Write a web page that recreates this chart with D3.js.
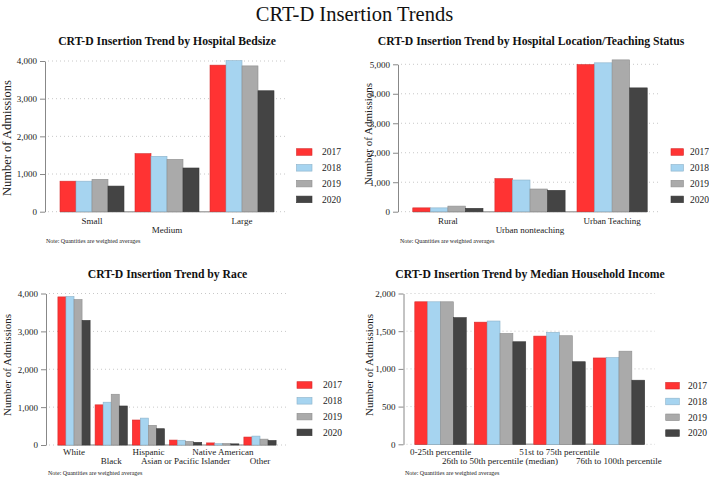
<!DOCTYPE html>
<html><head><meta charset="utf-8">
<script src="https://cdn.jsdelivr.net/npm/d3@7"></script>
<style>body{margin:0;background:#fff;} svg{display:block;}</style>
</head><body>
<script>
// ---------- DATA ----------
const years = ["2017", "2018", "2019", "2020"];
const mainTitle = "CRT-D Insertion Trends";
const noteText = "Note: Quantities are weighted averages";
const yAxisTitle = "Number of Admissions";

const bedsizeTitle = "CRT-D Insertion Trend by Hospital Bedsize";
const bedsizeCats = ["Small", "Medium", "Large"];
const bedsizeValues = [ // rows: 2017, 2018, 2019, 2020
  [810, 1540, 3890],
  [810, 1470, 4010],
  [860, 1390, 3870],
  [680, 1160, 3210]
];
const bedsizeTicks = [0, 1000, 2000, 3000, 4000];

const locationTitle = "CRT-D Insertion Trend by Hospital Location/Teaching Status";
const locationCats = ["Rural", "Urban nonteaching", "Urban Teaching"];
const locationValues = [
  [130, 1120, 4990],
  [130, 1075, 5050],
  [190, 770, 5150],
  [115, 725, 4200]
];
const locationTicks = [0, 1000, 2000, 3000, 4000, 5000];

const raceTitle = "CRT-D Insertion Trend by Race";
const raceCats = ["White", "Black", "Hispanic", "Asian or Pacific Islander", "Native American", "Other"];
const raceValues = [
  [3910, 1060, 660, 130, 55, 210],
  [3920, 1130, 710, 125, 35, 235],
  [3840, 1340, 520, 95, 40, 155],
  [3290, 1030, 430, 70, 30, 120]
];
const raceTicks = [0, 1000, 2000, 3000, 4000];

const incomeTitle = "CRT-D Insertion Trend by Median Household Income";
const incomeCats = ["0-25th percentile", "26th to 50th percentile (median)", "51st to 75th percentile", "76th to 100th percentile"];
const incomeValues = [
  [1890, 1620, 1435, 1145],
  [1890, 1635, 1485, 1150],
  [1890, 1470, 1440, 1235],
  [1680, 1360, 1095, 850]
];
const incomeTicks = [0, 500, 1000, 1500, 2000];

const colors = ["#ff3333", "#a6d4f0", "#aaaaaa", "#444444"];

// ---------- LAYOUT ----------
const FONT = "'Liberation Serif', 'Times New Roman', serif";
const W = 709, H = 479;
const svg = d3.select("body").append("svg").attr("width", W).attr("height", H);
svg.append("rect").attr("width", W).attr("height", H).attr("fill", "#fff");

svg.append("text").attr("x", 354.5).attr("y", 21).attr("text-anchor", "middle")
  .attr("font-family", FONT).attr("font-size", 20.5).attr("fill", "#111").text(mainTitle);

const panels = [
  {title: bedsizeTitle, cats: bedsizeCats, values: bedsizeValues, ticks: bedsizeTicks,
   axisX: 45, rangeEnd: 289, pi: 0.147, po: 0.2, y0: 211.7, yTop: 61, gridEnd: 287,
   titleX: 167, titleY: 45, ytX: 11, ytY: 138, ytSize: 12.5,
   labelY: 224, labelDY: 9, noteX: 46, noteY: 243,
   legX: 296.5, legW: 15.5, legY: 152, legTextX: 322},
  {title: locationTitle, cats: locationCats, values: locationValues, ticks: locationTicks,
   axisX: 398, rangeEnd: 662, pi: 0.145, po: 0.18, y0: 211.7, yTop: 64.3, gridEnd: 660,
   titleX: 531, titleY: 45, ytX: 372, ytY: 134, ytSize: 11,
   labelY: 224, labelDY: 9, noteX: 400, noteY: 243,
   legX: 671, legW: 12.5, legY: 152, legTextX: 690},
  {title: raceTitle, cats: raceCats, values: raceValues, ticks: raceTicks,
   axisX: 46, rangeEnd: 288, pi: 0.134, po: 0.32, y0: 445, yTop: 293.5, gridEnd: 287,
   titleX: 167.5, titleY: 278, ytX: 11, ytY: 365, ytSize: 11,
   labelY: 455, labelDY: 9, noteX: 48, noteY: 475,
   legX: 297, legW: 15, legY: 385, legTextX: 323},
  {title: incomeTitle, cats: incomeCats, values: incomeValues, ticks: incomeTicks,
   axisX: 403.5, rangeEnd: 656, pi: 0.135, po: 0.19, y0: 444.3, yTop: 293.5, gridEnd: 655,
   titleX: 530, titleY: 278, ytX: 373, ytY: 365, ytSize: 11,
   labelY: 455, labelDY: 9, noteX: 405, noteY: 475,
   legX: 665.7, legW: 13.6, legY: 385.7, legTextX: 688}
];

panels.forEach(p => {
  const g = svg.append("g");
  const x0 = d3.scaleBand().domain(p.cats).range([p.axisX, p.rangeEnd])
    .paddingInner(p.pi).paddingOuter(p.po);
  const x1 = d3.scaleBand().domain(years).range([0, x0.bandwidth()]);
  const yMax = p.ticks[p.ticks.length - 1];
  const y = d3.scaleLinear().domain([0, yMax]).range([p.y0, p.yTop]);

  // gridlines
  g.selectAll(".grid").data(p.ticks).join("line")
    .attr("x1", p.axisX + 3).attr("x2", p.gridEnd)
    .attr("y1", d => y(d)).attr("y2", d => y(d))
    .attr("stroke", "#c8c8c8").attr("stroke-width", 1).attr("stroke-dasharray", "1,3");

  // category axis baseline
  const first = x0(p.cats[0]);
  const last = x0(p.cats[p.cats.length - 1]) + x0.bandwidth();
  g.append("line").attr("x1", first).attr("x2", last)
    .attr("y1", y(0)).attr("y2", y(0)).attr("stroke", "#aaa").attr("stroke-width", 1.5);

  // bars
  years.forEach((yr, yi) => {
    g.selectAll(".bar" + yi).data(p.cats).join("rect")
      .attr("x", c => x0(c) + x1(yr))
      .attr("width", x1.bandwidth())
      .attr("y", (c, ci) => y(p.values[yi][ci]))
      .attr("height", (c, ci) => y(0) - y(p.values[yi][ci]))
      .attr("fill", colors[yi])
      .attr("stroke", d3.color(colors[yi]).darker(0.5))
      .attr("stroke-width", 0.6);
  });

  // y axis
  const ax = g.append("g").attr("transform", `translate(${p.axisX},0)`)
    .call(d3.axisLeft(y).tickValues(p.ticks).tickFormat(d3.format(","))
      .tickSize(5).tickSizeOuter(0).tickPadding(3));
  ax.select(".domain").attr("stroke", "#888");
  ax.selectAll(".tick line").attr("stroke", "#888");
  ax.selectAll("text").attr("font-family", FONT).attr("font-size", 9).attr("fill", "#222");

  // x labels (staggered)
  g.selectAll(".xl").data(p.cats).join("text")
    .attr("x", c => x0(c) + x0.bandwidth() / 2)
    .attr("y", (c, i) => p.labelY + (i % 2) * p.labelDY)
    .attr("text-anchor", "middle").attr("font-family", FONT).attr("font-size", 9)
    .attr("fill", "#222").text(c => c);

  // y-axis title
  g.append("text").attr("transform", `translate(${p.ytX},${p.ytY}) rotate(-90)`)
    .attr("text-anchor", "middle").attr("font-family", FONT).attr("font-size", p.ytSize)
    .attr("fill", "#222").text(yAxisTitle);

  // panel title
  g.append("text").attr("x", p.titleX).attr("y", p.titleY).attr("text-anchor", "middle")
    .attr("font-family", FONT).attr("font-weight", "bold").attr("font-size", 11.7)
    .attr("fill", "#111").text(p.title);

  // note
  g.append("text").attr("x", p.noteX).attr("y", p.noteY)
    .attr("font-family", FONT).attr("font-size", 6).attr("fill", "#222").text(noteText);

  // legend
  const lg = g.append("g");
  years.forEach((yr, yi) => {
    const cy = p.legY + yi * 15.8;
    lg.append("rect").attr("x", p.legX).attr("y", cy - 3.3).attr("width", p.legW).attr("height", 6.6)
      .attr("fill", colors[yi]).attr("stroke", d3.color(colors[yi]).darker(0.5)).attr("stroke-width", 0.6);
    lg.append("text").attr("x", p.legTextX).attr("y", cy + 3.2)
      .attr("font-family", FONT).attr("font-size", 9.5).attr("fill", "#222").text(yr);
  });
});
</script>
</body></html>
